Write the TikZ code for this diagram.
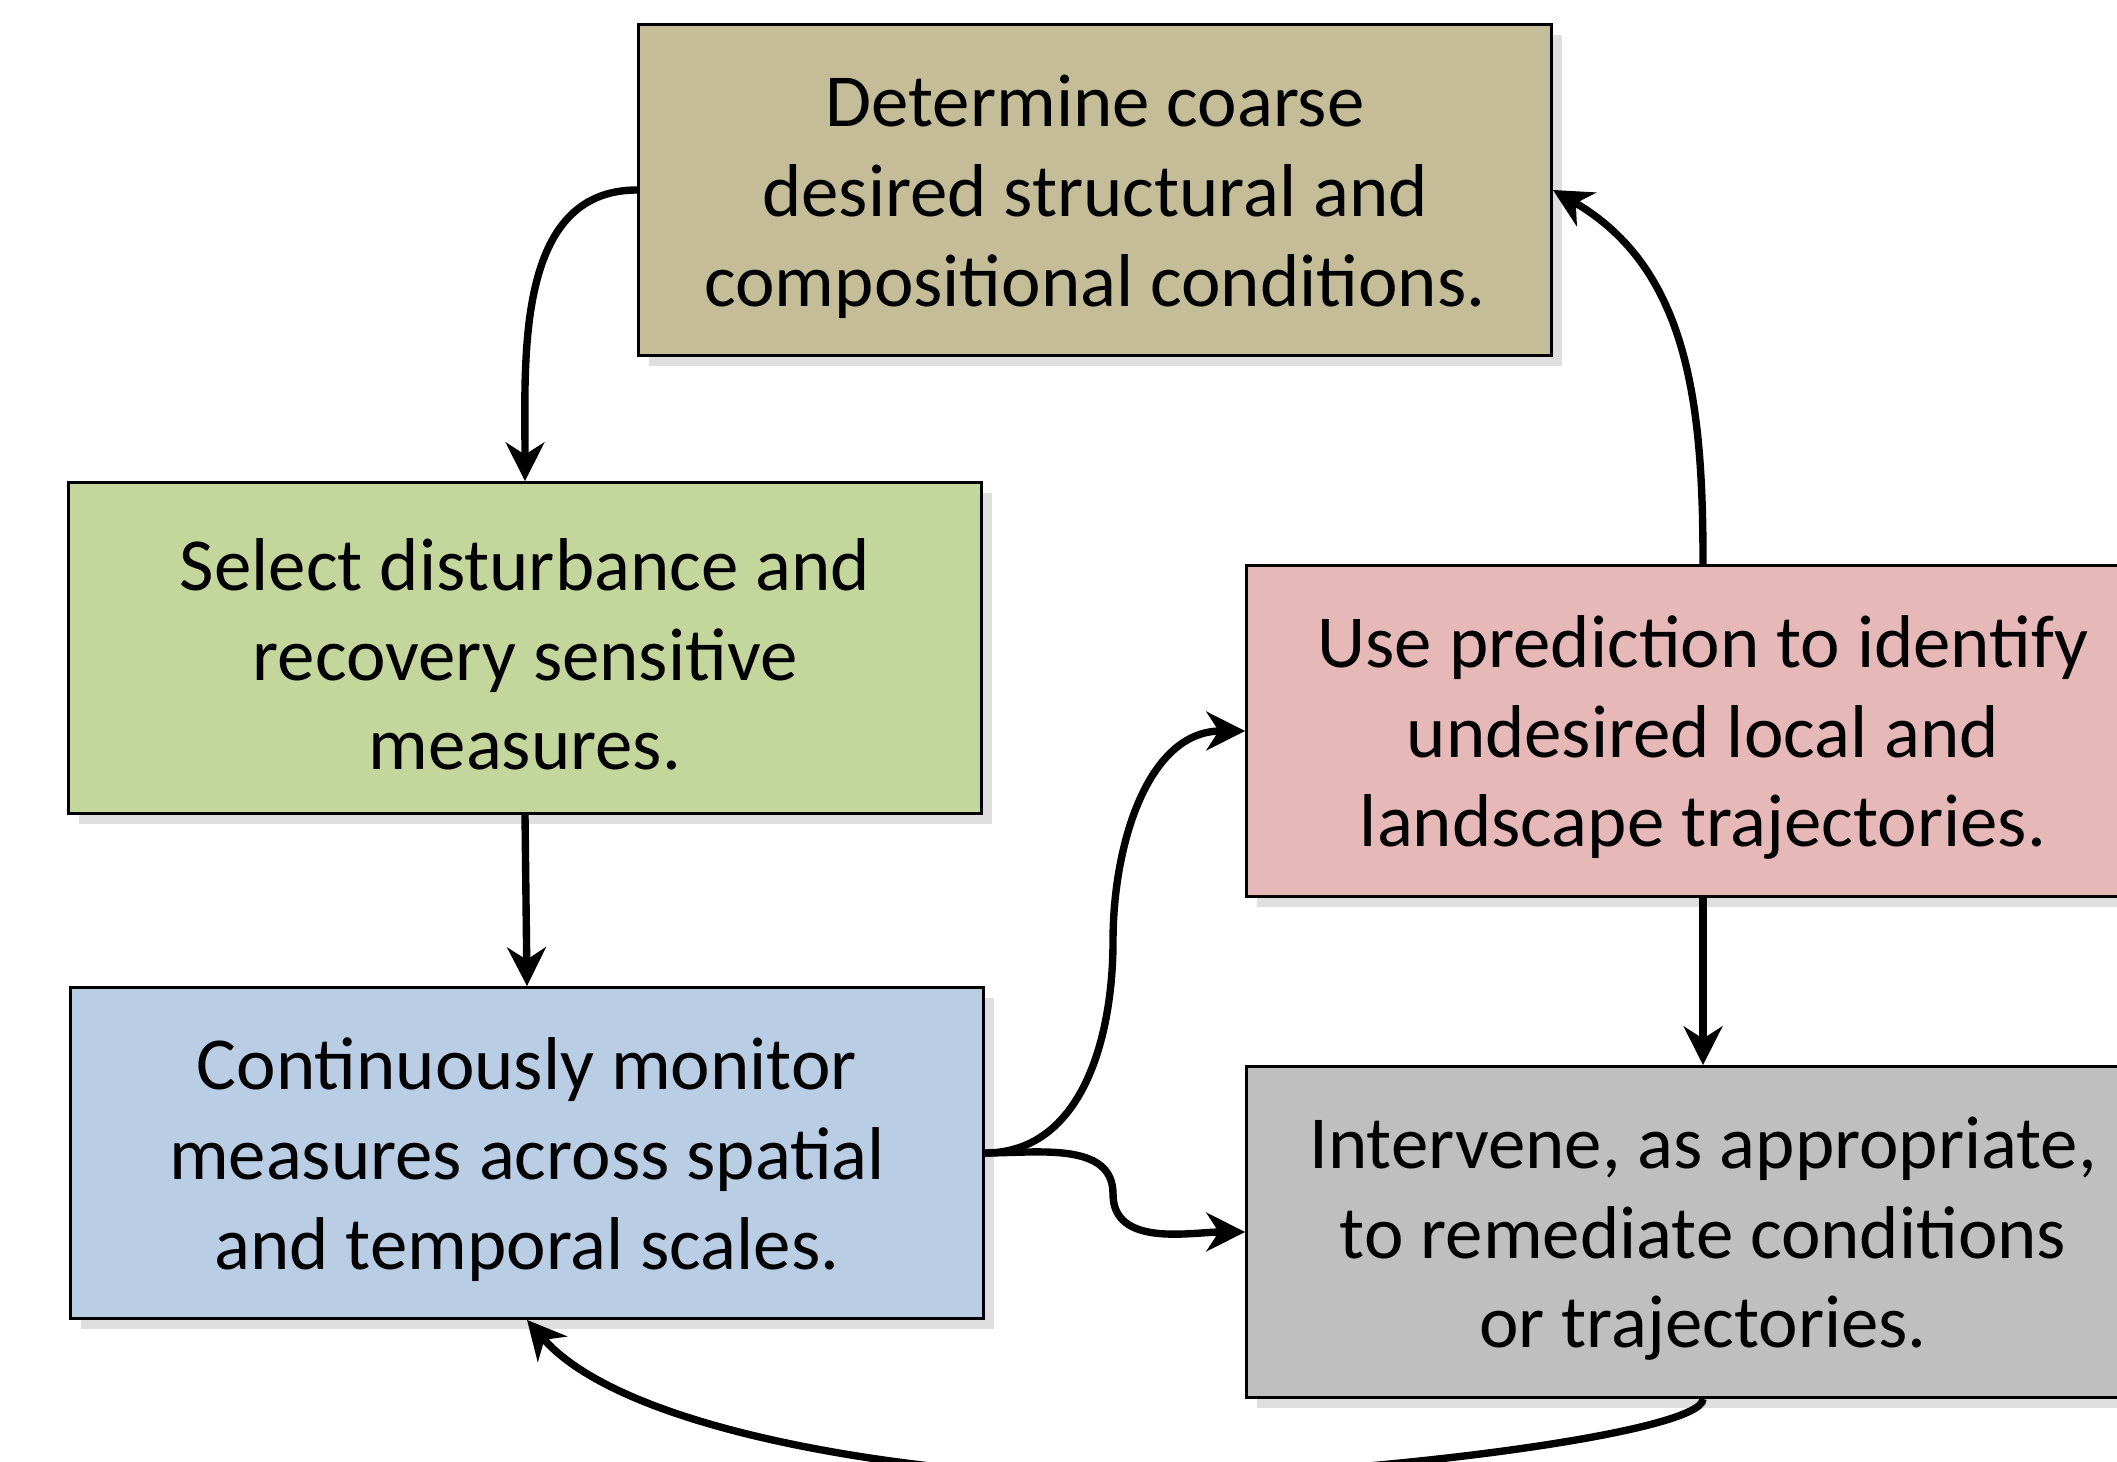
\documentclass[tikz,border=0pt]{standalone}
\usepackage{fontspec}
\setmainfont{Carlito}
\usetikzlibrary{arrows.meta,shadows}
\definecolor{tanbox}{HTML}{C4BD97}
\definecolor{greenbox}{HTML}{C3D69B}
\definecolor{bluebox}{HTML}{B9CDE5}
\definecolor{pinkbox}{HTML}{E6B9B8}
\definecolor{graybox}{HTML}{BFBFBF}
\newcommand{\topgap}{\rule{0pt}{18.5pt}}

\begin{document}
\begin{tikzpicture}[box/.style={draw=black,line width=0.8pt,minimum width=9.13cm,minimum height=3.31cm,align=center,font=\fontsize{21.3}{25.5}\selectfont,drop shadow={opacity=0.25,shadow xshift=3pt,shadow yshift=-3pt}},
flow/.style={line width=2.1pt,-{Stealth[length=11pt,width=11pt,inset=3.5pt]}}]
\useasboundingbox (0,0) rectangle (21.17,14.61);
\clip (0,0) rectangle (21.17,14.61);
\node[box,fill=tanbox] (coarse) at (10.95,12.71) {\topgap Determine coarse\\desired structural and\\compositional conditions.};
\node[box,fill=greenbox] (select) at (5.25,8.13) {\topgap Select disturbance and\\recovery sensitive\\measures.};
\node[box,fill=bluebox] (monitor) at (5.27,3.08) {\topgap Continuously monitor\\measures across spatial\\and temporal scales.};
\node[box,fill=pinkbox] (predict) at (17.03,7.30) {\topgap Use prediction to identify\\undesired local and\\landscape trajectories.};
\node[box,fill=graybox] (intervene) at (17.03,2.29) {\topgap Intervene, as appropriate,\\to remediate conditions\\or trajectories.};
\coordinate (up) at (11.13,5.20);
\coordinate (kink) at (11.13,2.67);
\coordinate (dip) at (11.3,-0.17);
\draw[flow] (coarse.west) to[out=180,in=90] (select.north);
\draw[flow] (select.south) -- (monitor.north);
\draw[flow] (monitor.east) to[out=0,in=-90] (up) to[out=90,in=180] (predict.west);
\draw[flow] (monitor.east) to[out=0,in=90] (kink) to[out=-90,in=180] (intervene.west);
\draw[flow] (predict.south) -- (intervene.north);
\draw[flow] (predict.north) to[out=90,in=-30] (coarse.east);
\draw[flow] (intervene.south) .. controls +(0,-0.35) and +(2.2,0) .. (dip) .. controls +(-2,0) and +(1,-1.15) .. (monitor.south);
\end{tikzpicture}
\end{document}
